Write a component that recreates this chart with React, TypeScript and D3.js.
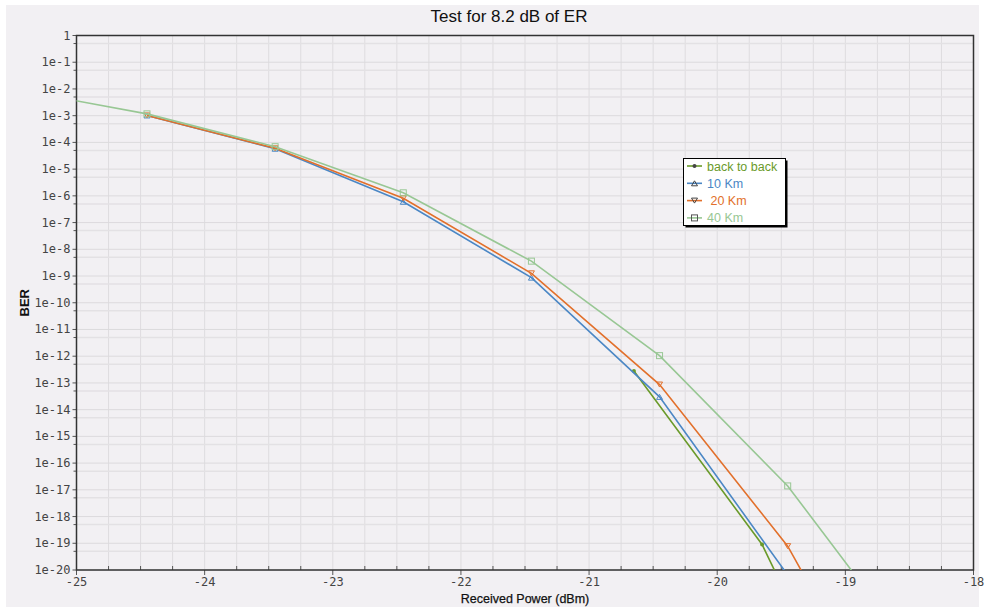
import React, { useEffect, useRef } from 'react';
import * as d3 from 'd3';

// measured points, received power (dBm) vs BER
const seriesNames = ['back to back', '10 Km', ' 20 Km', '40 Km'];
const seriesColors = ['#6a9a2a', '#4b87c5', '#e2702b', '#98c794'];
const markerShapes = ['circle', 'triangleUp', 'triangleDown', 'square'];

const powerB2B = [-20.65, -19.65, -18.65];
const berB2B = [2.8e-13, 9e-20, 1e-29];

const power10 = [-24.45, -23.45, -22.45, -21.45, -20.45, -19.45];
const ber10 = [1.02e-3, 5.8e-5, 6e-7, 8.7e-10, 3e-14, 6.5e-21];

const power20 = [-24.45, -23.45, -22.45, -21.45, -20.45, -19.45, -18.45];
const ber20 = [1.02e-3, 6e-5, 8.1e-7, 1.26e-9, 8.7e-14, 7.8e-20, 2e-28];

const power40 = [-25.45, -24.45, -23.45, -22.45, -21.45, -20.45, -19.45, -18.45];
const ber40 = [8.9e-3, 1.17e-3, 6.9e-5, 1.3e-6, 3.6e-9, 1.05e-12, 1.4e-17, 6.3e-24];

const xTickValues = [-25, -24, -23, -22, -21, -20, -19, -18];
const yExponents = d3.range(0, -21, -1);

const W = 985, H = 607;
const left = 76.5, right = 973.5, top = 35.5, bottom = 570;
const sans = 'Liberation Sans, Arial, sans-serif';

export default function App() {
    const ref = useRef<SVGSVGElement>(null);

    useEffect(() => {
        const svg = d3.select(ref.current);
        svg.selectAll('*').remove();

        const x = d3.scaleLinear().domain([-25, -18]).range([left, right]);
        const y = d3.scaleLog().domain([1, 1e-20]).range([top, bottom]);

        svg.append('rect').attr('width', W).attr('height', H).attr('fill', '#ffffff');
        svg.append('rect').attr('x', 6).attr('y', 5).attr('width', 973).attr('height', 602).attr('fill', '#f2f0f3');

        // grid
        const grid = svg.append('g');
        const xMinor = d3.range(-25, -17.99, 0.25);
        grid.selectAll('line.vx').data(xMinor).enter().append('line')
            .attr('x1', d => x(d)).attr('x2', d => x(d))
            .attr('y1', top).attr('y2', bottom)
            .attr('stroke', '#dedcdf').attr('stroke-width', 1);
        grid.selectAll('line.hy').data(yExponents.slice(1)).enter().append('line')
            .attr('x1', left).attr('x2', right)
            .attr('y1', d => y(Math.pow(10, d))).attr('y2', d => y(Math.pow(10, d)))
            .attr('stroke', '#dcdadd').attr('stroke-width', 1);
        grid.selectAll('line.hm').data(yExponents.slice(1)).enter().append('line')
            .attr('x1', left).attr('x2', right)
            .attr('y1', d => y(5 * Math.pow(10, d))).attr('y2', d => y(5 * Math.pow(10, d)))
            .attr('stroke', '#e3e1e4').attr('stroke-width', 1.5);

        // ticks
        const ticks = svg.append('g').attr('stroke', '#555');
        ticks.selectAll('line.xt').data(xMinor).enter().append('line')
            .attr('x1', d => x(d)).attr('x2', d => x(d))
            .attr('y1', bottom).attr('y2', d => Number.isInteger(d) ? bottom + 5 : bottom - 4);
        ticks.selectAll('line.yt').data(yExponents).enter().append('line')
            .attr('x1', left - 4).attr('x2', left)
            .attr('y1', d => y(Math.pow(10, d))).attr('y2', d => y(Math.pow(10, d)));
        ticks.selectAll('line.ym').data(yExponents.slice(1)).enter().append('line')
            .attr('x1', left - 3).attr('x2', left)
            .attr('y1', d => y(5 * Math.pow(10, d))).attr('y2', d => y(5 * Math.pow(10, d)));

        // tick labels
        svg.selectAll('text.xl').data(xTickValues).enter().append('text')
            .attr('x', d => x(d)).attr('y', bottom + 16)
            .attr('text-anchor', 'middle')
            .attr('font-family', 'DejaVu Sans Mono').attr('font-size', 12).attr('fill', '#444')
            .text(d => String(d));
        svg.selectAll('text.yl').data(yExponents).enter().append('text')
            .attr('x', left - 6).attr('y', d => y(Math.pow(10, d)) + 4)
            .attr('text-anchor', 'end')
            .attr('font-family', 'DejaVu Sans Mono').attr('font-size', 12).attr('fill', '#444')
            .text(d => d === 0 ? '1' : `1e${d}`);

        // frame
        svg.append('rect').attr('x', left).attr('y', top)
            .attr('width', right - left).attr('height', bottom - top)
            .attr('fill', 'none').attr('stroke', '#333').attr('stroke-width', 1.5);

        svg.append('clipPath').attr('id', 'plotClip').append('rect')
            .attr('x', left).attr('y', top).attr('width', right - left).attr('height', bottom - top);

        const data = [
            powerB2B.map((p, i) => [p, berB2B[i]]),
            power10.map((p, i) => [p, ber10[i]]),
            power20.map((p, i) => [p, ber20[i]]),
            power40.map((p, i) => [p, ber40[i]]),
        ];

        const line = d3.line<number[]>()
            .x(d => x(d[0]))
            .y(d => y(d[1]));

        const marker = (g: any, shape: string, cx: number, cy: number, color: string) => {
            if (shape === 'circle') {
                g.append('circle').attr('cx', cx).attr('cy', cy).attr('r', 2).attr('fill', color);
            } else if (shape === 'square') {
                g.append('rect').attr('x', cx - 3).attr('y', cy - 3).attr('width', 6).attr('height', 6)
                    .attr('fill', 'none').attr('stroke', color).attr('stroke-width', 1);
            } else {
                const s = shape === 'triangleUp' ? -1 : 1;
                g.append('path')
                    .attr('d', `M${cx - 3},${cy - 2.5 * s}L${cx + 3},${cy - 2.5 * s}L${cx},${cy + 2.5 * s}Z`)
                    .attr('fill', 'none').attr('stroke', color).attr('stroke-width', 1);
            }
        };

        const plot = svg.append('g').attr('clip-path', 'url(#plotClip)');
        data.forEach((pts, k) => {
            plot.append('path').attr('d', line(pts))
                .attr('fill', 'none').attr('stroke', seriesColors[k]).attr('stroke-width', 1.6);
            pts.forEach(d => marker(plot, markerShapes[k], x(d[0]), y(d[1]), seriesColors[k]));
        });

        // legend
        const lg = svg.append('g');
        const lx = 683.5, ly = 158.5, lw = 102, lh = 67;
        lg.append('rect').attr('x', lx + 2).attr('y', ly + 2).attr('width', lw).attr('height', lh).attr('fill', '#000');
        lg.append('rect').attr('x', lx).attr('y', ly).attr('width', lw).attr('height', lh)
            .attr('fill', '#fff').attr('stroke', '#000').attr('stroke-width', 1);
        seriesNames.forEach((name, k) => {
            const ry = 166 + k * 17.3;
            lg.append('line').attr('x1', 687).attr('x2', 702).attr('y1', ry).attr('y2', ry)
                .attr('stroke', seriesColors[k]).attr('stroke-width', 1.6);
            marker(lg, markerShapes[k], 694.5, ry, k === 3 ? '#555' : '#444');
            lg.append('text').attr('x', 707).attr('y', ry + 4.5)
                .attr('font-family', sans).attr('font-size', 12.5)
                .attr('fill', seriesColors[k]).style('white-space', 'pre')
                .text(name);
        });

        // titles
        svg.append('text').attr('x', 509).attr('y', 22).attr('text-anchor', 'middle')
            .attr('font-family', sans).attr('font-size', 17).attr('fill', '#111')
            .text('Test for 8.2 dB of ER');
        svg.append('text').attr('x', 525).attr('y', 603).attr('text-anchor', 'middle')
            .attr('font-family', sans).attr('font-size', 12.5).attr('fill', '#111')
            .attr('stroke', '#111').attr('stroke-width', 0.25)
            .text('Received Power (dBm)');
        svg.append('text').attr('transform', `translate(29,${(top + bottom) / 2}) rotate(-90)`)
            .attr('text-anchor', 'middle')
            .attr('font-family', sans).attr('font-size', 13)
            .attr('font-weight', 'bold').attr('fill', '#111')
            .text('BER');
    }, []);

    return (
        <div style={{ position: 'absolute', left: 0, top: 0 }}>
            <svg ref={ref} width={W} height={H} style={{ display: 'block' }} />
        </div>
    );
}
